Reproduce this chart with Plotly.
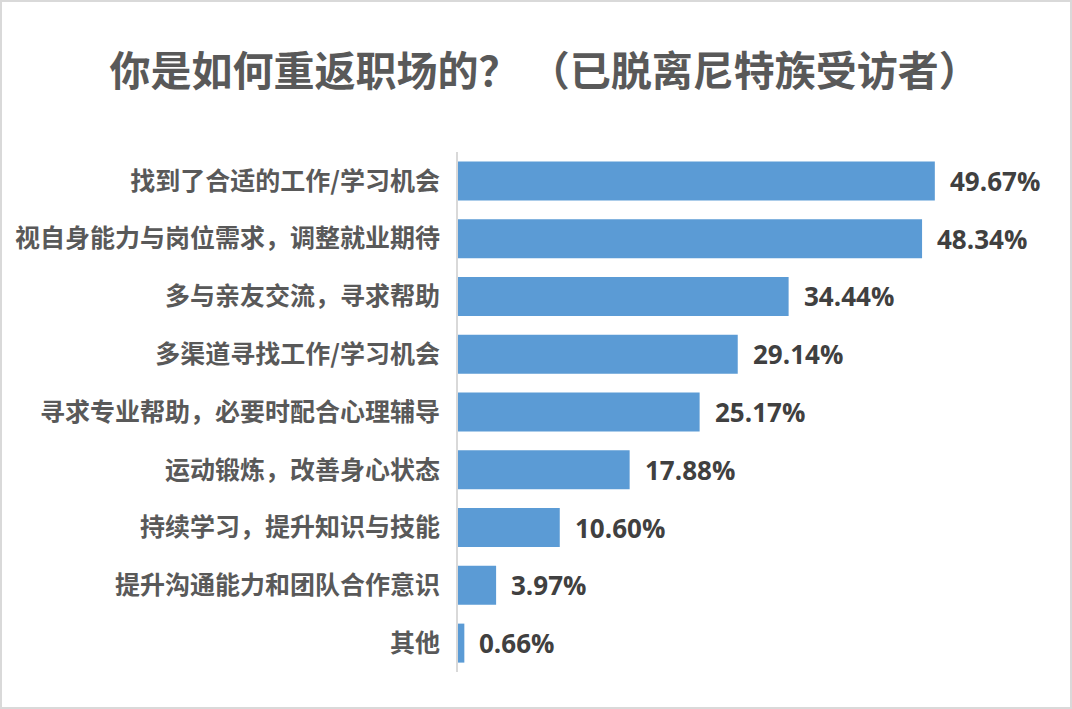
import plotly.graph_objects as go

categories = [
    "找到了合适的工作/学习机会",
    "视自身能力与岗位需求，调整就业期待",
    "多与亲友交流，寻求帮助",
    "多渠道寻找工作/学习机会",
    "寻求专业帮助，必要时配合心理辅导",
    "运动锻炼，改善身心状态",
    "持续学习，提升知识与技能",
    "提升沟通能力和团队合作意识",
    "其他",
]
values = [49.67, 48.34, 34.44, 29.14, 25.17, 17.88, 10.60, 3.97, 0.66]
value_labels = [f"{v:.2f}%" for v in values]
title_text = "你是如何重返职场的？ （已脱离尼特族受访者）"

W, H = 1072, 709
ML, MR, MT, MB = 458, 38, 152, 37

fig = go.Figure()
fig.add_trace(go.Bar(
    x=values, y=categories, orientation="h",
    marker=dict(color="#5B9BD5", line=dict(width=0)),
    hoverinfo="skip",
))

for v, c, t in zip(values, categories, value_labels):
    fig.add_annotation(
        x=v, y=c, text=t, showarrow=False, xanchor="left", yanchor="middle",
        xshift=13, font=dict(family="Open Sans", size=26, color="#404040", weight="bold"),
    )

fig.update_layout(
    width=W, height=H,
    margin=dict(l=ML, r=MR, t=MT, b=MB, autoexpand=False),
    paper_bgcolor="white", plot_bgcolor="white",
    bargap=0.325,
    showlegend=False,
    title=dict(
        text=title_text, x=0.508, xref="container", xanchor="center",
        y=1 - 72 / H, yref="container", yanchor="middle",
        font=dict(family="Noto Sans CJK SC", size=41, color="#595959", weight="bold"),
    ),
    xaxis=dict(range=[0, 60], visible=False, fixedrange=True),
    yaxis=dict(
        autorange="reversed", showline=True, linecolor="#D9D9D9", linewidth=2,
        showgrid=False, zeroline=False, ticks="", ticklabelstandoff=11,
        tickfont=dict(family="Noto Sans CJK SC", size=25, color="#595959", weight="bold"),
    ),
    shapes=[dict(
        type="rect", xref="paper", yref="paper",
        x0=-(ML - 1) / (W - ML - MR), x1=1 + (MR - 1) / (W - ML - MR),
        y0=-(MB - 1) / (H - MT - MB), y1=1 + (MT - 1) / (H - MT - MB),
        line=dict(color="#D9D9D9", width=2), layer="below",
    )],
)

fig.write_html("out.html")
